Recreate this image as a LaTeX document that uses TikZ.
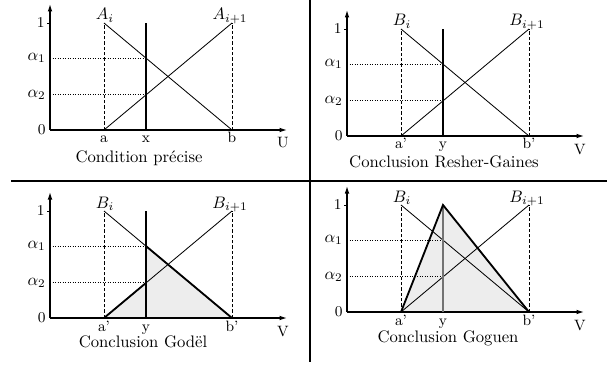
\documentclass[tikz,border=0pt]{standalone}
\usepackage{amsmath}
\usepackage{tikz}
\usetikzlibrary{arrows.meta,calc}
\pgfdeclarelayer{background}
\pgfsetlayers{background,main}
\tikzset{
  axisarrow/.style={line width=0.7pt,-{Latex[length=4.5pt,width=2.8pt]}},
  memb/.style={line width=0.5pt},
  bound/.style={line width=0.5pt,dash pattern=on 2pt off 1.2pt},
  level/.style={line width=0.5pt,dash pattern=on 0.6pt off 0.9pt},
  crisp/.style={line width=1.2pt},
  result/.style={line width=1.1pt,line join=miter},
  areafill/.style={fill=black!7},
  divider/.style={line width=1.2pt},
  ptlabel/.style={font=\small,anchor=base,inner sep=0pt},
  vallabel/.style={anchor=east,inner sep=0pt},
  setlabel/.style={anchor=base,inner sep=0pt},
  captext/.style={anchor=base,inner sep=0pt},
}

\begin{document}
\begin{tikzpicture}[x=0.6pt,y=0.6pt]
  \useasboundingbox (0,0) rectangle (607,367);
  % dividing lines
  \coordinate (top) at (310,367);
  \coordinate (bot) at (310,5);
  \coordinate (lft) at (11,186);
  \coordinate (rgt) at (607,186);
  \draw[divider] (top) -- (bot);
  \draw[divider] (lft) -- (rgt);
  % common frame of the four panels
  \foreach \n/\ox/\oy/\fs/\la/\lm/\lb/\uv/\cx/\cy/\ct in {
      P/50/237/A/a/x/b/U/89/-33/Condition précise,
      R/347/231/B/a'/y/b'/V/97/-31/Conclusion Resher-Gaines,
      D/50/49/B/a'/y/b'/V/93/-29/Conclusion Godël,
      G/347/55/B/a'/y/b'/V/101/-30/Conclusion Goguen} {
    \begin{scope}[shift={(\ox,\oy)}]
      \coordinate (\n o) at (0,0);
      \coordinate (\n xe) at (237,0);
      \coordinate (\n ye) at (0,126);
      \coordinate (\n tk) at (-3,107);
      \coordinate (\n y1) at (0,107);
      \coordinate (\n a0) at (54,0);
      \coordinate (\n a1) at (54,107);
      \coordinate (\n b0) at (182,0);
      \coordinate (\n b1) at (182,107);
      \coordinate (\n m0) at (96,0);
      \coordinate (\n m1) at (96,107);
      \coordinate (\n p1) at (96,71.9);
      \coordinate (\n p2) at (96,35.1);
      % membership functions
      \draw[bound] (\n a0) -- (\n a1);
      \draw[bound] (\n b0) -- (\n b1);
      \draw[memb] (\n a1) -- (\n b0);
      \draw[memb] (\n a0) -- (\n b1);
      \draw[level] (\n o |- \n p1) -- (\n p1);
      \draw[level] (\n o |- \n p2) -- (\n p2);
      % axes
      \draw[axisarrow] (\n o) -- (\n xe);
      \draw[axisarrow] (\n o) -- (\n ye);
      \draw[memb] (\n tk) -- (\n y1);
      \node[vallabel,font=\small] (\n zero) at (-4,0) {0};
      \node[vallabel,font=\small] (\n one) at (-5,107) {1};
      \node[vallabel] (\n al1) at (-4,71.9) {$\alpha_1$};
      \node[vallabel] (\n al2) at (-4,35.1) {$\alpha_2$};
      \node[ptlabel] (\n la) at (54,-13) {\la};
      \node[ptlabel] (\n lm) at (96,-13) {\lm};
      \node[ptlabel] (\n lb) at (182,-13) {\lb};
      \node[ptlabel] (\n uv) at (233,-18) {\uv};
      \node[setlabel] (\n si) at (55,110) {$\fs_i$};
      \node[setlabel] (\n sj) at (180,110) {$\fs_{i+1}$};
      \node[captext] (\n cap) at (\cx,\cy) {\ct};
    \end{scope}
  }
  % precise condition and Rescher-Gaines
  \draw[crisp] (Pm0) -- (Pm1);
  \draw[crisp] (Rm0) -- (Rm1);
  % Godel
  \draw[crisp] (Dm0) -- (Dm1);
  \begin{pgfonlayer}{background}
    \fill[areafill] (Da0) -- (Dp2) -- (Dp1) -- (Db0) -- cycle;
    \fill[areafill] (Ga0) -- (Gm1) -- (Gb0) -- cycle;
  \end{pgfonlayer}
  \draw[result] (Da0) -- (Dp2);
  \draw[result] (Dp1) -- (Db0);
  % Goguen
  \draw[crisp,black!55] (Gm0) -- (Gm1);
  \draw[result] (Ga0) -- (Gm1) -- (Gb0);
\end{tikzpicture}
\end{document}
